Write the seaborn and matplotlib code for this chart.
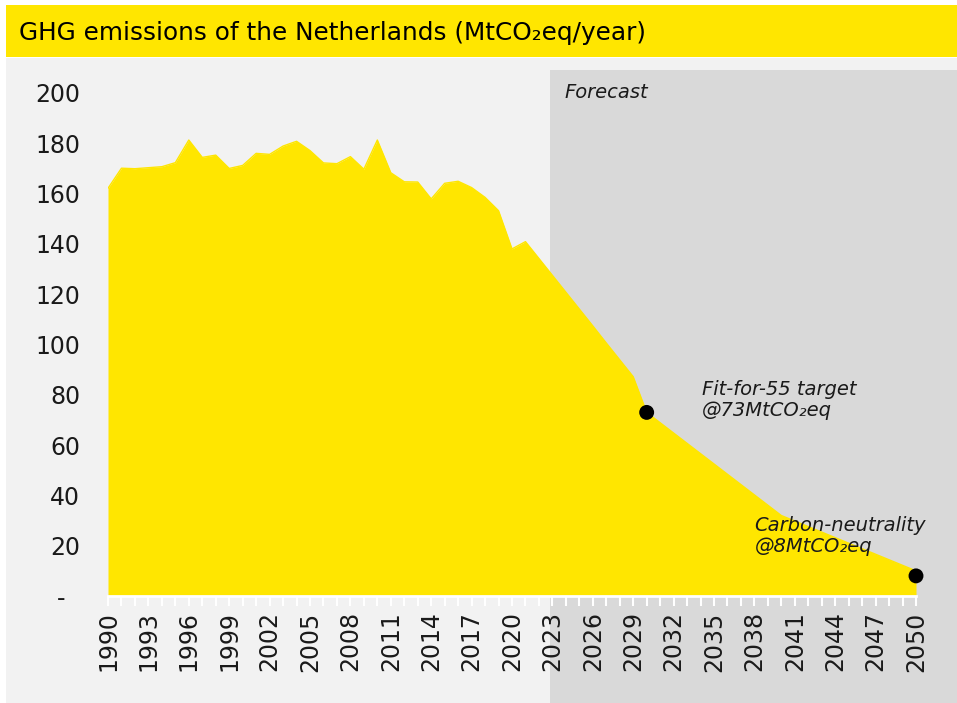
import matplotlib
matplotlib.use("Agg")
import matplotlib.pyplot as plt
from matplotlib.patches import Rectangle
from matplotlib.ticker import MultipleLocator, FixedLocator, FixedFormatter
import seaborn as sns
import pandas as pd

# Данные (MtCO2eq/год)
years = list(range(1990, 2051))
emissions = [
    162.1, 170.1, 169.9, 170.3, 170.7, 172.3, 181.3, 174.4, 175.3, 170.0,   # 1990-1999
    171.2, 176.0, 175.6, 178.9, 180.8, 177.1, 172.2, 171.9, 174.7, 169.7,   # 2000-2009
    181.3, 168.3, 164.7, 164.6, 157.9, 164.1, 164.9, 162.4, 158.5, 153.2,   # 2010-2019
    138.0, 140.9, 134.2, 127.5, 120.8, 114.1, 107.4, 100.6, 93.9, 87.2,     # 2020-2029
    73.0, 68.9, 64.8, 60.7, 56.6, 52.5, 48.4, 44.3, 40.2, 36.1,             # 2030-2039
    32.0, 29.8, 27.6, 25.4, 23.2, 21.0, 18.8, 16.6, 14.4, 12.2,             # 2040-2049
    10.0,                                                                   # 2050
]
target_years = [2030, 2050]
target_values = [73, 8]
target_labels = ["Fit-for-55 target\n@73MtCO\u2082eq", "Carbon-neutrality\n@8MtCO\u2082eq"]
forecast_start = 2022.8

y_ticks = [0, 20, 40, 60, 80, 100, 120, 140, 160, 180, 200]
y_labels = ["-  "] + [str(v) for v in y_ticks[1:]]
x_ticks = list(range(1990, 2051, 3))

df = pd.DataFrame({"year": years, "emissions": emissions})
targets = pd.DataFrame({"year": target_years, "value": target_values})

YELLOW = "#FFE600"
LIGHT = "#F2F2F2"
DARK = "#D9D9D9"
TXT = "#1a1a1a"

sns.set_style("white")
plt.rcParams["font.family"] = ["DejaVu Sans"]

W, H = 957, 703
fig = plt.figure(figsize=(W / 100, H / 100), dpi=100, facecolor="white")

# фон и полоса заголовка
fig.patches.append(Rectangle((6 / W, 0), 951 / W, 1 - 58 / H, transform=fig.transFigure,
                             facecolor=LIGHT, edgecolor="none", zorder=-2))
fig.patches.append(Rectangle((6 / W, 1 - 57 / H), 951 / W, 52 / H, transform=fig.transFigure,
                             facecolor=YELLOW, edgecolor="none", zorder=-2))
fig.text(19 / W, 1 - 40 / H, "GHG emissions of the Netherlands (MtCO\u2082eq/year)",
         fontsize=17.8, color="black", va="baseline", ha="left")

ax = fig.add_axes([108 / W, 1 - 596 / H, 808 / W, (596 - 93) / H])
ax.set_facecolor("none")

# область прогноза
ax.axvspan(forecast_start, 2060, ymin=-107 / 503, ymax=1 + 23 / 503,
           facecolor=DARK, edgecolor="none", clip_on=False, zorder=0)
ax.text(forecast_start + 1.1, 200, "Forecast", fontsize=14, style="italic",
        color=TXT, va="center", ha="left")

# площадь
ax.fill_between(df["year"], df["emissions"], 0, color=YELLOW, linewidth=0, zorder=2)
sns.lineplot(data=df, x="year", y="emissions", ax=ax, color=YELLOW, linewidth=1, zorder=2)

# целевые точки
sns.scatterplot(data=targets, x="year", y="value", ax=ax, color="black", s=115,
                edgecolor="none", zorder=4, clip_on=False)
ax.text(2034.1, 86, target_labels[0], fontsize=14, style="italic", color=TXT,
        va="top", ha="left", linespacing=1.15)
ax.text(2038.0, 32, target_labels[1], fontsize=14, style="italic", color=TXT,
        va="top", ha="left", linespacing=1.15)

ax.set_xlim(1990, 2050)
ax.set_ylim(0, 200)
ax.set_xlabel("")
ax.set_ylabel("")

ax.xaxis.set_minor_locator(MultipleLocator(1))
ax.set_xticks(x_ticks)
ax.set_xticklabels([str(x) for x in x_ticks], rotation=90, fontsize=17, color=TXT)
ax.tick_params(axis="x", which="both", length=7, width=1.5, color="white",
               direction="out", pad=4, bottom=True)
ax.yaxis.set_major_locator(FixedLocator(y_ticks))
ax.yaxis.set_major_formatter(FixedFormatter(y_labels))
ax.tick_params(axis="y", length=0, pad=20, labelsize=17, labelcolor=TXT)

for s in ["top", "right", "left"]:
    ax.spines[s].set_visible(False)
ax.spines["bottom"].set_color("white")
ax.spines["bottom"].set_linewidth(2)
ax.spines["bottom"].set_zorder(3)

fig.savefig("out.png", dpi=100, facecolor="white")
